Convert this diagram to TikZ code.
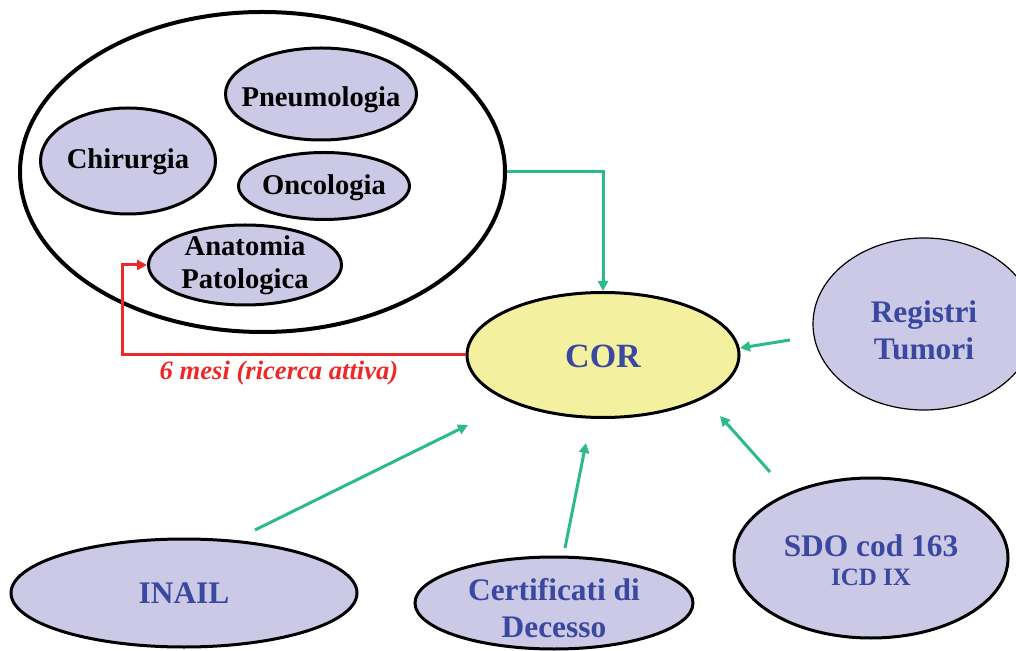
\documentclass[tikz,border=0pt]{standalone}
\usepackage{fontspec}
\setmainfont{Liberation Serif}
\usetikzlibrary{arrows.meta, shapes.geometric}
\definecolor{lila}{HTML}{CBC9E5}
\definecolor{corgelb}{HTML}{F3F1A0}
\definecolor{blautext}{HTML}{3B48A0}
\definecolor{gruen}{HTML}{2BBB89}
\definecolor{rosso}{HTML}{EE2828}

\begin{document}
\begin{tikzpicture}[x=0.5pt, y=-0.5pt, >={Triangle[length=5pt,width=5pt]},
    blob/.style={ellipse, draw=black, line width=1.5pt, fill=lila, inner sep=0pt},
    reparto/.style={font=\fontsize{14.3}{16.5}\selectfont\bfseries, align=center},
    fonte/.style={font=\fontsize{15.7}{18.5}\selectfont\bfseries, text=blautext, align=center},
    flusso/.style={gruen, line width=1.5pt, ->}]
    \clip (0,0) rectangle (1016,651);

    % ospedale
    \node[ellipse, draw=black, line width=2pt, minimum width=242.5pt, minimum height=160pt] (gruppo) at (262.5,172) {};
    \node[blob, minimum width=95.5pt, minimum height=46pt, label={[reparto, yshift=-3pt]center:Pneumologia}] (pneu) at (321,94) {};
    \node[blob, minimum width=87.5pt, minimum height=53pt, label={[reparto, yshift=-0.5pt]center:Chirurgia}] (chir) at (128,161) {};
    \node[blob, minimum width=85.5pt, minimum height=33.5pt, label={[reparto, yshift=-1pt]center:Oncologia}] (onco) at (324,186) {};
    \node[blob, minimum width=96.5pt, minimum height=40pt, label={[reparto]center:{Anatomia\\Patologica}}] (anat) at (245,265) {};

    % centro
    \node[blob, fill=corgelb, minimum width=136pt, minimum height=62.5pt,
          label={[fonte, font=\fontsize{17}{20}\selectfont\bfseries, yshift=-0.5pt]center:COR}] (cor) at (603,355) {};

    % fonti esterne
    \node[blob, line width=0.6pt, minimum width=111pt, minimum height=86pt, label={[fonte, yshift=-3pt]center:{Registri\\Tumori}}] (reg) at (924,324) {};
    \node[blob, minimum width=173pt, minimum height=54pt, label={[fonte]center:INAIL}] (inail) at (184,593) {};
    \node[blob, minimum width=139pt, minimum height=46pt, label={[fonte, yshift=-2.5pt]center:{Certificati di\\Decesso}}] (cert) at (554,603) {};
    \node[blob, minimum width=137pt, minimum height=80pt,
          label={[fonte, yshift=-1pt]center:{SDO cod 163\\[-4pt]{\fontsize{12.5}{15}\selectfont ICD IX}}}] (sdo) at (871,558) {};

    \coordinate (regA) at (790,340);
    \coordinate (regB) at (740,348);
    \coordinate (sdoA) at (770,472);
    \coordinate (sdoB) at (720,416);
    \coordinate (certA) at (565,548);
    \coordinate (certB) at (586,443);
    \coordinate (inailA) at (255,530);
    \coordinate (inailB) at (468,425);

    \draw[flusso] (gruppo.east) -| (cor.north);
    \draw[flusso] (regA) -- (regB);
    \draw[flusso] (sdoA) -- (sdoB);
    \draw[flusso] (certA) -- (certB);
    \draw[flusso] (inailA) -- (inailB);

    % ricerca attiva
    \draw[rosso, line width=1.5pt, ->] (cor.west) -| ([xshift=-12.5pt]anat.west) -- (anat.west);
    \node[rosso, font=\fontsize{13.3}{15}\selectfont\bfseries\itshape] (ritardo) at (279,373) {6 mesi (ricerca attiva)};
\end{tikzpicture}
\end{document}
